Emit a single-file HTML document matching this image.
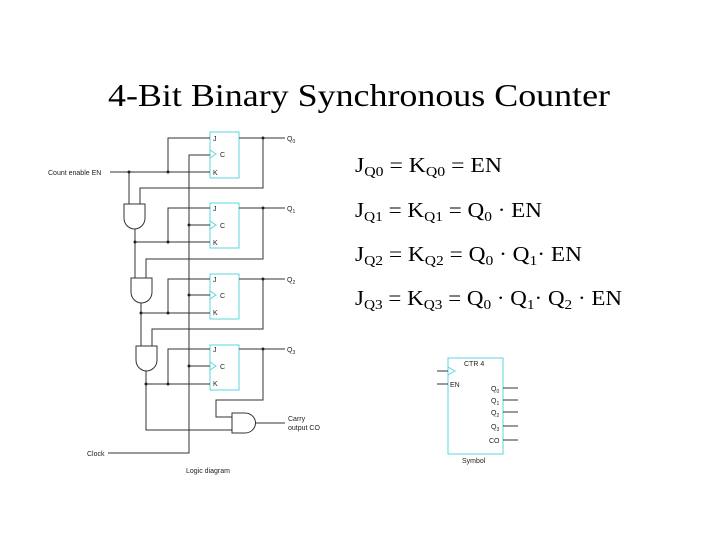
<!DOCTYPE html>
<html><head><style>
body{margin:0;background:#fff;width:720px;height:540px;overflow:hidden;position:relative}
</style></head><body>
<svg width="720" height="540" style="position:absolute;left:0;top:0" font-family="Liberation Sans,sans-serif" font-size="7">
<g font-family="Liberation Serif,serif" fill="#000">
<text x="108" y="106" font-size="32" textLength="502" lengthAdjust="spacingAndGlyphs">4-Bit Binary Synchronous Counter</text>
<g font-size="21">
<text x="355" y="172" textLength="147" lengthAdjust="spacingAndGlyphs">J<tspan font-size="14" dy="4">Q0</tspan><tspan dy="-4"> = K</tspan><tspan font-size="14" dy="4">Q0</tspan><tspan dy="-4"> = EN</tspan></text>
<text x="355" y="217" textLength="187" lengthAdjust="spacingAndGlyphs">J<tspan font-size="14" dy="4">Q1</tspan><tspan dy="-4"> = K</tspan><tspan font-size="14" dy="4">Q1</tspan><tspan dy="-4"> = Q</tspan><tspan font-size="14" dy="4">0</tspan><tspan dy="-4"> · EN</tspan></text>
<text x="355" y="261" textLength="227" lengthAdjust="spacingAndGlyphs">J<tspan font-size="14" dy="4">Q2</tspan><tspan dy="-4"> = K</tspan><tspan font-size="14" dy="4">Q2</tspan><tspan dy="-4"> = Q</tspan><tspan font-size="14" dy="4">0</tspan><tspan dy="-4"> · Q</tspan><tspan font-size="14" dy="4">1</tspan><tspan dy="-4">· EN</tspan></text>
<text x="355" y="305" textLength="267" lengthAdjust="spacingAndGlyphs">J<tspan font-size="14" dy="4">Q3</tspan><tspan dy="-4"> = K</tspan><tspan font-size="14" dy="4">Q3</tspan><tspan dy="-4"> = Q</tspan><tspan font-size="14" dy="4">0</tspan><tspan dy="-4"> · Q</tspan><tspan font-size="14" dy="4">1</tspan><tspan dy="-4">· Q</tspan><tspan font-size="14" dy="4">2</tspan><tspan dy="-4"> · EN</tspan></text>
</g>
</g>
<g stroke="#333" stroke-width="1" fill="none">
<g stroke="#5cd6dc">
<rect x="210" y="132" width="29" height="46"/><rect x="210" y="203" width="29" height="45"/>
<rect x="210" y="274" width="29" height="45"/><rect x="210" y="345" width="29" height="45"/>
<path d="M210 150l6 4-6 4M210 221l6 4-6 4M210 291l6 4-6 4M210 362l6 4-6 4"/>
<rect x="448" y="358" width="55" height="96"/><path d="M448 367l7 4-7 4"/>
</g>
<path d="M239 138H285M239 208H285M239 279H285M239 349H285"/>
<path d="M110 172H210M168 172V138H210"/>
<path d="M108 453H189V155H210M189 225H210M189 295H210M189 366H210"/>
<path d="M124 204H145V218A10.5 11 0 0 1 124 218Z"/>
<path d="M129 172V204M140 204V188H263V138M135 229V242H210M168 242V208H210"/>
<path d="M131 278H152V292A10.5 11 0 0 1 131 292Z"/>
<path d="M135 242V278M146 278V259H263V208M141 303V313H210M168 313V279H210"/>
<path d="M136 346H157V360A10.5 11 0 0 1 136 360Z"/>
<path d="M141 313V346M152 346V329H263V279M146 371V430H232M146 384H210M168 384V349H210"/>
<path d="M232 413H245A10.5 10 0 0 1 245 433H232Z"/>
<path d="M232 417H216V400H263V349M255.5 423H285"/>
<path d="M437 371H448M437 384H448M503 388H518M503 400H518M503 412H518M503 426H518M503 440H518"/>
</g>
<g fill="#222">
<circle cx="263" cy="138" r="1.5"/><circle cx="263" cy="208" r="1.5"/><circle cx="263" cy="279" r="1.5"/><circle cx="263" cy="349" r="1.5"/>
<circle cx="129" cy="172" r="1.5"/><circle cx="168" cy="172" r="1.5"/>
<circle cx="135" cy="242" r="1.5"/><circle cx="168" cy="242" r="1.5"/>
<circle cx="141" cy="313" r="1.5"/><circle cx="168" cy="313" r="1.5"/>
<circle cx="146" cy="384" r="1.5"/><circle cx="168" cy="384" r="1.5"/>
<circle cx="189" cy="225" r="1.5"/><circle cx="189" cy="295" r="1.5"/><circle cx="189" cy="366" r="1.5"/>
<text x="48" y="175">Count enable EN</text>
<text x="87" y="456">Clock</text>
<text x="186" y="473">Logic diagram</text>
<text x="288" y="421">Carry</text><text x="288" y="430">output CO</text>
<text x="213" y="141">J</text><text x="220" y="157">C</text><text x="213" y="175">K</text>
<text x="213" y="211">J</text><text x="220" y="228">C</text><text x="213" y="245">K</text>
<text x="213" y="282">J</text><text x="220" y="298">C</text><text x="213" y="315">K</text>
<text x="213" y="352">J</text><text x="220" y="369">C</text><text x="213" y="386">K</text>
<text x="287" y="141">Q<tspan font-size="5" dy="2">0</tspan></text>
<text x="287" y="211">Q<tspan font-size="5" dy="2">1</tspan></text>
<text x="287" y="282">Q<tspan font-size="5" dy="2">2</tspan></text>
<text x="287" y="352">Q<tspan font-size="5" dy="2">3</tspan></text>
<text x="464" y="366">CTR 4</text>
<text x="450" y="387">EN</text>
<text x="491" y="391">Q<tspan font-size="5" dy="2">0</tspan></text>
<text x="491" y="403">Q<tspan font-size="5" dy="2">1</tspan></text>
<text x="491" y="415">Q<tspan font-size="5" dy="2">2</tspan></text>
<text x="491" y="429">Q<tspan font-size="5" dy="2">3</tspan></text>
<text x="489" y="443">CO</text>
<text x="462" y="463">Symbol</text>
</g>
</svg>
</body></html>
